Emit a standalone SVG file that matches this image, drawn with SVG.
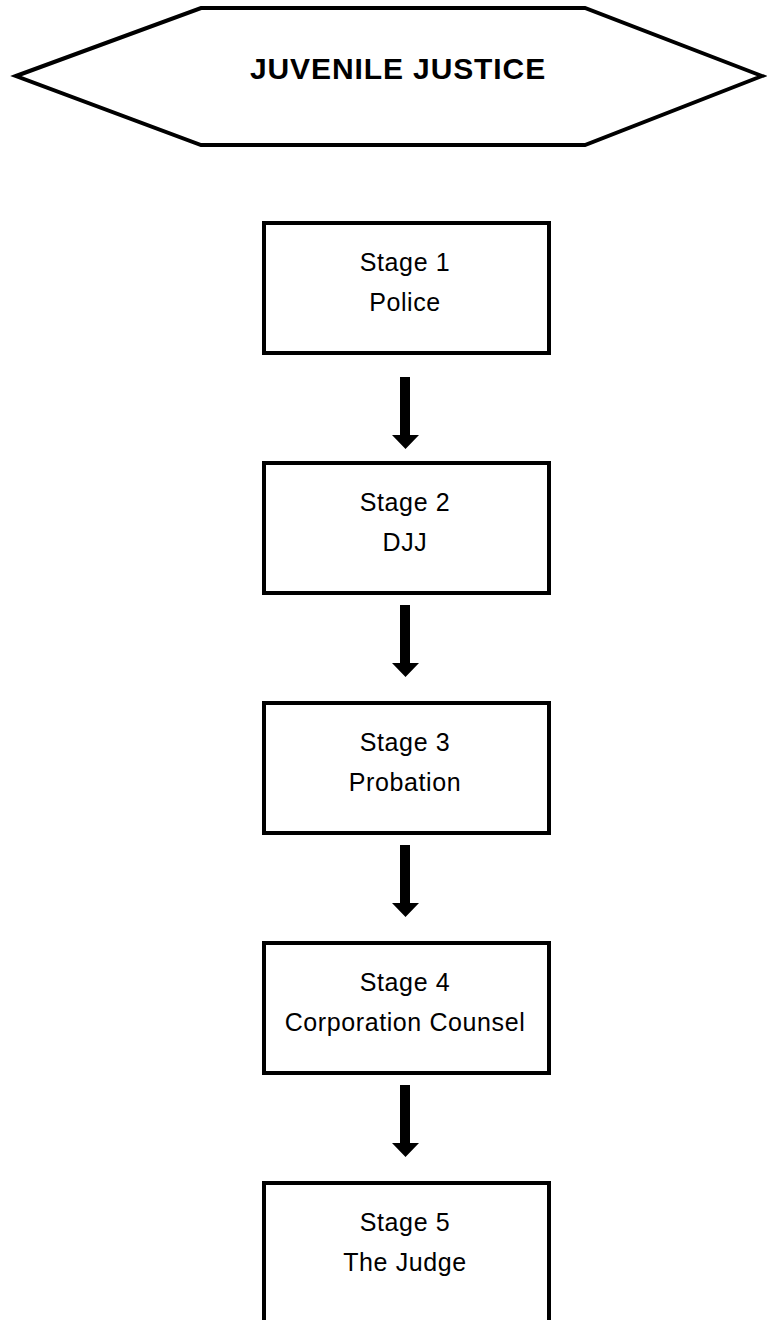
<svg xmlns="http://www.w3.org/2000/svg" width="767" height="1320" viewBox="0 0 767 1320">
  <style>
    .box { fill: #ffffff; stroke: #000000; stroke-width: 4; }
    .label { font-family: "Liberation Sans", Arial, sans-serif; font-size: 25px; letter-spacing: 0.6px; fill: #000000; text-anchor: middle; }
    .title { font-family: "Liberation Sans", Arial, sans-serif; font-size: 30px; font-weight: bold; letter-spacing: 0.9px; fill: #000000; text-anchor: middle; }
    .arrow { fill: #000000; }
  </style>
  <defs>
    <!-- block arrow pointing down, origin at top of shaft centre -->
    <path id="down-arrow" d="M -5.5 0 L 4.5 0 L 4.5 58 L 13.5 58 L 0 72 L -13.5 58 L -5.5 58 Z"/>
  </defs>

  <rect width="767" height="1320" fill="#ffffff"/>

  <g id="title">
    <polygon points="16,76 201,8 585,8 762,76 585,145 201,145" fill="#ffffff" stroke="#000000" stroke-width="4" stroke-linejoin="miter"/>
    <text class="title" x="398" y="79">JUVENILE JUSTICE</text>
  </g>

  <g id="stage1">
    <rect class="box" x="264" y="223" width="285" height="130"/>
    <text class="label" x="405" y="271">Stage 1</text>
    <text class="label" x="405" y="311">Police</text>
  </g>

  <g id="stage2">
    <rect class="box" x="264" y="463" width="285" height="130"/>
    <text class="label" x="405" y="511">Stage 2</text>
    <text class="label" x="405" y="551">DJJ</text>
  </g>

  <g id="stage3">
    <rect class="box" x="264" y="703" width="285" height="130"/>
    <text class="label" x="405" y="751">Stage 3</text>
    <text class="label" x="405" y="791">Probation</text>
  </g>

  <g id="stage4">
    <rect class="box" x="264" y="943" width="285" height="130"/>
    <text class="label" x="405" y="991">Stage 4</text>
    <text class="label" x="405" y="1031">Corporation Counsel</text>
  </g>

  <g id="stage5">
    <rect class="box" x="264" y="1183" width="285" height="160"/>
    <text class="label" x="405" y="1231">Stage 5</text>
    <text class="label" x="405" y="1271">The Judge</text>
  </g>

  <g id="connectors">
    <use href="#down-arrow" class="arrow" x="405.5" y="377"/>
    <use href="#down-arrow" class="arrow" x="405.5" y="605"/>
    <use href="#down-arrow" class="arrow" x="405.5" y="845"/>
    <use href="#down-arrow" class="arrow" x="405.5" y="1085"/>
  </g>
</svg>
